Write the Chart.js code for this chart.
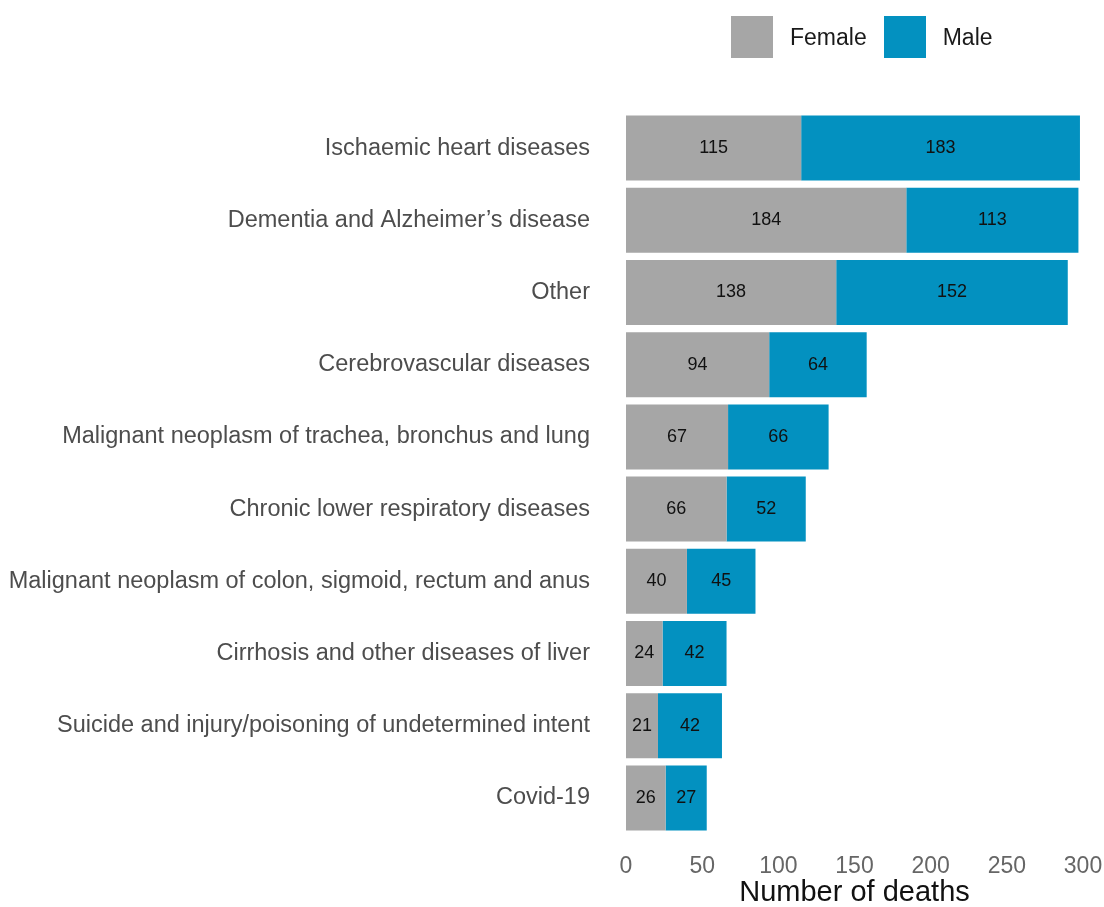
<!DOCTYPE html>
<html>
<head>
<meta charset="utf-8">
<script src="https://cdn.jsdelivr.net/npm/chart.js@4.4.1/dist/chart.umd.min.js"></script>
<style>
    html, body { margin: 0; padding: 0; background: #fff; }
    #wrap { position: relative; width: 1104px; height: 907px; }
    #legend { position: absolute; left: 731px; top: 16px; display: flex; align-items: center;
              font-family: 'Liberation Sans', Arial, sans-serif; font-size: 23px; color: #1a1a1a; }
    #legend .box { width: 42px; height: 42px; display: inline-block; }
    #legend .lbl { margin-left: 17px; margin-right: 17px; }
</style>
</head>
<body>
<div id="wrap">
    <canvas id="chart" width="1104" height="907"></canvas>
    <div id="legend"></div>
</div>
<script>
const categories = [
    'Ischaemic heart diseases',
    'Dementia and Alzheimer\u2019s disease',
    'Other',
    'Cerebrovascular diseases',
    'Malignant neoplasm of trachea, bronchus and lung',
    'Chronic lower respiratory diseases',
    'Malignant neoplasm of colon, sigmoid, rectum and anus',
    'Cirrhosis and other diseases of liver',
    'Suicide and injury/poisoning of undetermined intent',
    'Covid-19'
];
const female = [115, 184, 138, 94, 67, 66, 40, 24, 21, 26];
const male = [183, 113, 152, 64, 66, 52, 45, 42, 42, 27];
const xTicks = [0, 50, 100, 150, 200, 250, 300];

const FONT = "'Liberation Sans', Arial, sans-serif";

// value labels centred in each bar segment
const segmentLabels = {
    id: 'segmentLabels',
    afterDatasetsDraw(chart) {
        const ctx = chart.ctx;
        ctx.save();
        ctx.font = '18px ' + FONT;
        ctx.fillStyle = '#111';
        ctx.textAlign = 'center';
        ctx.textBaseline = 'middle';
        chart.data.datasets.forEach((ds, i) => {
            chart.getDatasetMeta(i).data.forEach((bar, j) => {
                const cx = (bar.x + bar.base) / 2;
                ctx.fillText(String(ds.data[j]), cx, bar.y);
            });
        });
        ctx.restore();
    }
};

const chart = new Chart(document.getElementById('chart'), {
    type: 'bar',
    data: {
        labels: categories,
        datasets: [
            { label: 'Female', data: female, backgroundColor: '#a6a6a6' },
            { label: 'Male', data: male, backgroundColor: '#0391c0' }
        ]
    },
    options: {
        indexAxis: 'y',
        responsive: false,
        animation: false,
        layout: { padding: { top: 112, right: 21, bottom: 0, left: 0 } },
        datasets: { bar: { barPercentage: 0.9, categoryPercentage: 1 } },
        plugins: {
            legend: { display: false },
            tooltip: { enabled: false }
        },
        scales: {
            x: {
                stacked: true,
                min: 0,
                max: 300,
                afterBuildTicks: (scale) => { scale.ticks = xTicks.map(v => ({ value: v })); },
                afterFit: (scale) => { scale.paddingRight = 0; },
                grid: { display: false, drawTicks: false },
                border: { display: false },
                ticks: { color: '#666', font: { family: FONT, size: 23, lineHeight: 1 }, padding: 21 },
                title: { display: true, text: 'Number of deaths', color: '#111',
                         font: { family: FONT, size: 29, lineHeight: 1 }, padding: { top: -21, bottom: 0 } }
            },
            y: {
                stacked: true,
                grid: { display: false, drawTicks: false },
                border: { display: false },
                ticks: { color: '#4d4d4d', font: { family: FONT, size: 23.5 }, padding: 36 },
                afterFit: (scale) => { scale.width = 626; }
            }
        }
    },
    plugins: [segmentLabels]
});

// legend built from the dataset names and colours
const legendEl = document.getElementById('legend');
legendEl.innerHTML = chart.data.datasets.map(ds =>
    `<span class="box" style="background:${ds.backgroundColor}"></span><span class="lbl">${ds.label}</span>`
).join('');
</script>
</body>
</html>
